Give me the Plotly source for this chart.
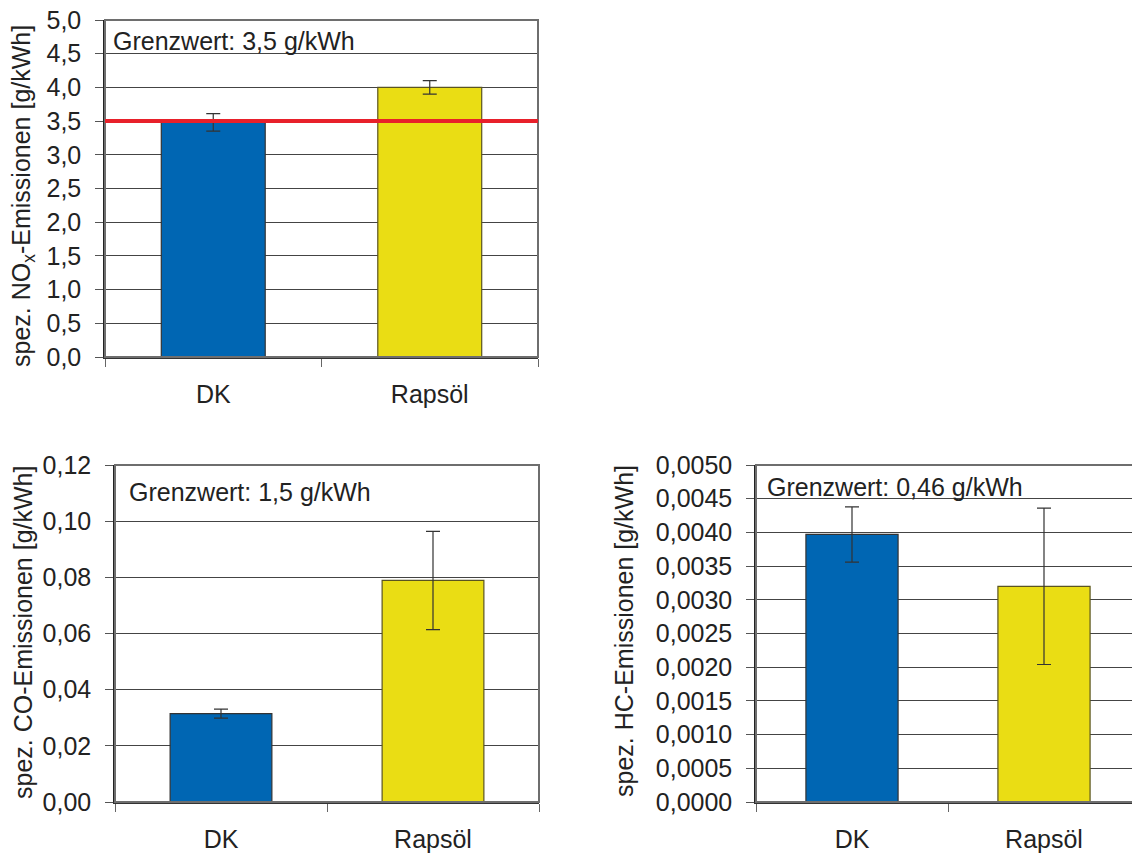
import plotly.graph_objects as go

categories = ["DK", "Rapsöl"]
nox_values = [3.48, 4.00]
nox_errors = [0.13, 0.10]
co_values = [0.0315, 0.0789]
co_errors = [0.0016, 0.0175]
hc_values = [0.00397, 0.00320]
hc_errors = [0.00041, 0.00116]
bar_colors = ["#0066b3", "#eadd14"]
bar_lines = ["#333333", "#5a5420"]

nox_limit = 3.5
limit_texts = ["Grenzwert: 3,5 g/kWh", "Grenzwert: 1,5 g/kWh", "Grenzwert: 0,46 g/kWh"]
y_titles = ["spez. NO<sub>x</sub>-Emissionen [g/kWh]", "spez. CO-Emissionen [g/kWh]",
            "spez. HC-Emissionen [g/kWh]"]

FONT = "Liberation Sans, Arial, Helvetica, sans-serif"
TXT = "#222222"
FS = 25
OFF = 8  # page body margin
W, H = 1140 - OFF, 854 - OFF

def px(x):
    return (x - OFF) / W

def py(y):
    return 1 - (y - OFF) / H

panels = [
    dict(vals=nox_values, errs=nox_errors, xd=[px(105), px(538)], yd=[py(357), py(20)],
         rng=[0, 5.0], dtick=0.5, fmt=".1f"),
    dict(vals=co_values, errs=co_errors, xd=[px(115), px(539)], yd=[py(802), py(465)],
         rng=[0, 0.12], dtick=0.02, fmt=".2f"),
    dict(vals=hc_values, errs=hc_errors, xd=[px(756), 1.0], yd=[py(802), py(465)],
         rng=[0, 0.005], dtick=0.0005, fmt=".4f"),
]

fig = go.Figure()
layout = dict(
    width=W, height=H, margin=dict(l=0, r=0, t=0, b=0, pad=0), autosize=False,
    paper_bgcolor="white", plot_bgcolor="white", showlegend=False,
    separators=",.", font=dict(family=FONT, size=FS, color=TXT),
)
shapes = []
annotations = []

for i, p in enumerate(panels):
    n = "" if i == 0 else str(i + 1)
    xa, ya = "x" + n, "y" + n
    fig.add_trace(go.Bar(
        x=categories, y=p["vals"], xaxis=xa, yaxis=ya,
        marker=dict(color=bar_colors, line=dict(color=bar_lines, width=1.2)),
        width=0.48,
        error_y=dict(type="data", array=p["errs"], visible=True, color="#333333",
                     thickness=1.2, width=7),
        hoverinfo="skip",
    ))
    layout["xaxis" + n] = dict(
        domain=p["xd"], anchor=ya, type="category", range=[-0.5, 1.5],
        showline=True, linecolor="#333333", linewidth=1.5,
        ticks="outside", tickson="boundaries", ticklen=8, tickcolor="#666666",
        tickfont=dict(size=FS, color=TXT, family=FONT), ticklabelstandoff=14,
        ticklabeloverflow="allow",
        showgrid=False, zeroline=False, fixedrange=True, automargin=False,
    )
    layout["yaxis" + n] = dict(
        domain=p["yd"], anchor=xa, range=p["rng"], dtick=p["dtick"], tick0=0,
        tickformat=p["fmt"], showline=True, linecolor="#222222", linewidth=1.5,
        ticks="outside", ticklen=8, tickcolor="#555555",
        tickfont=dict(size=FS, color=TXT, family=FONT), ticklabelstandoff=9,
        ticklabeloverflow="allow",
        showgrid=True, gridcolor="#444444", gridwidth=1, zeroline=False,
        fixedrange=True, automargin=False,
    )
    shapes.append(dict(type="rect", xref=xa + " domain", yref=ya + " domain",
                       x0=0, x1=1, y0=0, y1=1, line=dict(color="#6e6e6e", width=2),
                       layer="above"))

# red limit line on NOx panel
shapes.append(dict(type="line", xref="x domain", yref="y", x0=0, x1=1,
                   y0=nox_limit, y1=nox_limit, line=dict(color="#e8202a", width=4),
                   layer="above"))

# limit texts
text_pos = [(111, 41), (127, 492), (765, 487)]
for t, (x, y) in zip(limit_texts, text_pos):
    annotations.append(dict(text=t, xref="paper", yref="paper", x=px(x), y=py(y),
                            xanchor="left", yanchor="middle", showarrow=False,
                            font=dict(size=FS, color=TXT, family=FONT)))

# y titles
title_pos = [(23, 196), (23, 633), (624, 631)]
for t, (x, y) in zip(y_titles, title_pos):
    annotations.append(dict(text=t, xref="paper", yref="paper", x=px(x), y=py(y),
                            xanchor="center", yanchor="middle", showarrow=False,
                            textangle=-90, font=dict(size=FS, color=TXT, family=FONT)))

layout["shapes"] = shapes
layout["annotations"] = annotations
fig.update_layout(**layout)
fig.write_html("out.html")
